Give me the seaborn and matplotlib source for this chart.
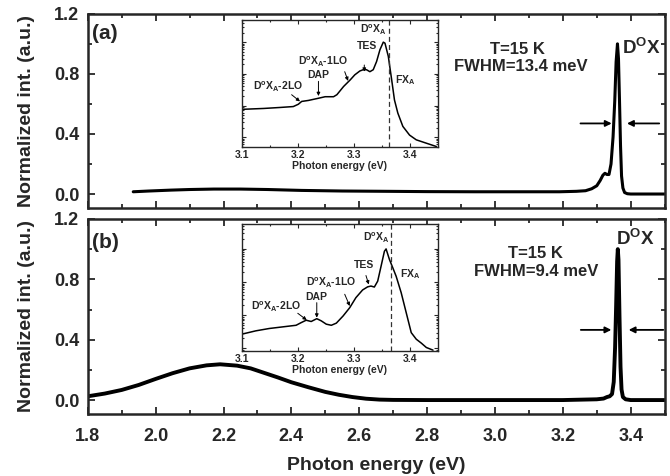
import matplotlib
matplotlib.use("Agg")
import matplotlib.pyplot as plt
from matplotlib.ticker import MultipleLocator, NullFormatter, LogLocator
import numpy as np
import pandas as pd
import seaborn as sns

# ---- main spectra (normalized PL intensity) ----
energy_a = [1.934, 1.98, 2.045, 2.10, 2.172, 2.25, 2.33, 2.43, 2.55, 2.68, 2.80, 2.94,
            3.06, 3.19, 3.24, 3.267, 3.285, 3.300, 3.310, 3.318, 3.324, 3.330, 3.336,
            3.342, 3.348, 3.353, 3.357, 3.361, 3.364, 3.367, 3.370, 3.373, 3.377,
            3.382, 3.390, 3.400, 3.45, 3.50]
intensity_a = [0.015, 0.020, 0.026, 0.030, 0.033, 0.033, 0.030, 0.024, 0.020, 0.018, 0.016, 0.015,
               0.015, 0.015, 0.018, 0.022, 0.035, 0.055, 0.090, 0.125, 0.138, 0.130, 0.130,
               0.200, 0.380, 0.620, 0.880, 1.000, 0.900, 0.620, 0.320, 0.120, 0.040,
               0.010, 0.002, 0.000, 0.000, 0.000]

energy_b = [1.80, 1.85, 1.90, 1.95, 2.00, 2.05, 2.10, 2.15, 2.19, 2.24, 2.28, 2.32, 2.36,
            2.40, 2.45, 2.50, 2.54, 2.58, 2.62, 2.66, 2.70, 2.80, 3.00, 3.20, 3.30,
            3.320, 3.330, 3.338, 3.345, 3.350, 3.354, 3.357, 3.360, 3.362, 3.364,
            3.367, 3.370, 3.373, 3.377, 3.385, 3.400, 3.45, 3.50]
intensity_b = [0.025, 0.043, 0.067, 0.100, 0.140, 0.178, 0.210, 0.230, 0.237, 0.228, 0.210, 0.180, 0.150,
               0.118, 0.085, 0.054, 0.035, 0.020, 0.009, 0.003, 0.001, 0.000, 0.000, 0.000, 0.005,
               0.010, 0.020, 0.025, 0.040, 0.120, 0.350, 0.620, 0.920, 1.000, 0.930,
               0.550, 0.220, 0.070, 0.020, 0.005, 0.000, 0.000, 0.000]

# ---- near-band-edge spectra (log scale insets) ----
inset_energy_a = [3.100, 3.139, 3.168, 3.192, 3.201, 3.207, 3.219, 3.237, 3.249, 3.264, 3.270,
                  3.282, 3.294, 3.302, 3.311, 3.317, 3.323, 3.329, 3.335, 3.341, 3.347,
                  3.353, 3.356, 3.362, 3.368, 3.373, 3.379, 3.388, 3.400, 3.412, 3.430, 3.448]
inset_intensity_a = [0.0076, 0.0081, 0.0087, 0.0093, 0.011, 0.0135, 0.0145, 0.017, 0.019, 0.019, 0.022,
                     0.040, 0.065, 0.093, 0.123, 0.135, 0.135, 0.117, 0.135, 0.245, 0.575,
                     1.0, 0.93, 0.355, 0.065, 0.015, 0.0058, 0.0022, 0.00117, 0.00083, 0.00065, 0.00051]

inset_energy_b = [3.100, 3.125, 3.149, 3.179, 3.197, 3.206, 3.215, 3.224, 3.234, 3.242, 3.251,
                  3.260, 3.269, 3.281, 3.293, 3.304, 3.316, 3.325, 3.331, 3.337, 3.343,
                  3.349, 3.355, 3.358, 3.364, 3.370, 3.376, 3.385, 3.394, 3.403, 3.412,
                  3.421, 3.430, 3.442]
inset_intensity_b = [0.0027, 0.0034, 0.0040, 0.0046, 0.0050, 0.0060, 0.0071, 0.0065, 0.0079, 0.0068, 0.0054,
                     0.0050, 0.0058, 0.0095, 0.017, 0.034, 0.058, 0.072, 0.076, 0.071, 0.107,
                     0.30, 0.85, 1.0, 0.48, 0.27, 0.15, 0.048, 0.012, 0.0030, 0.0019,
                     0.00145, 0.00107, 0.00089]

panel_labels = ["(a)", "(b)"]
temperature_text = ["T=15 K", "T=15 K"]
fwhm_text = ["FWHM=13.4 meV", "FWHM=9.4 meV"]
peak_label = r"D$^{\mathbf{O}}$X"
xticks_main = [1.8, 2.0, 2.2, 2.4, 2.6, 2.8, 3.0, 3.2, 3.4]
yticks_main = [0.0, 0.4, 0.8, 1.2]
inset_xticks = [3.1, 3.2, 3.3, 3.4]
dashed_energy = [3.363, 3.366]

sns.set_theme(style="ticks")
plt.rcParams["font.family"] = ["Liberation Sans", "DejaVu Sans"]
plt.rcParams["font.weight"] = "bold"
plt.rcParams["mathtext.fontset"] = "custom"
plt.rcParams["mathtext.rm"] = "Liberation Sans:bold"
plt.rcParams["mathtext.bf"] = "Liberation Sans:bold"
plt.rcParams["mathtext.it"] = "Liberation Sans:bold"

fig = plt.figure(figsize=(6.7, 4.76), dpi=100)
ax_a = fig.add_axes([0.131, 0.564, 0.861, 0.407])
ax_b = fig.add_axes([0.131, 0.131, 0.861, 0.409])
in_a = fig.add_axes([0.361, 0.691, 0.292, 0.267])
in_b = fig.add_axes([0.361, 0.263, 0.292, 0.267])

df_a = pd.DataFrame({"E": energy_a, "I": intensity_a})
df_b = pd.DataFrame({"E": energy_b, "I": intensity_b})
sns.lineplot(data=df_a, x="E", y="I", ax=ax_a, color="black", lw=2.2, estimator=None, sort=False)
sns.lineplot(data=df_b, x="E", y="I", ax=ax_b, color="black", lw=2.8, estimator=None, sort=False)

for ax in (ax_a, ax_b):
    ax.set_xlim(1.8, 3.5)
    ax.set_ylim(-0.09, 1.2)
    ax.set_xticks(xticks_main)
    ax.set_yticks(yticks_main)
    ax.xaxis.set_minor_locator(MultipleLocator(0.1))
    ax.yaxis.set_minor_locator(MultipleLocator(0.2))
    ax.tick_params(which="both", direction="in", top=True, right=True, width=1.3,
                   labelsize=13)
    ax.tick_params(which="major", length=5)
    ax.tick_params(which="minor", length=3)
    ax.tick_params(axis="y", pad=6)
    ax.tick_params(axis="x", pad=10)
    for s in ax.spines.values():
        s.set_linewidth(1.8)
    ax.set_ylabel("Normalized int. (a.u.)", fontsize=14, fontweight="bold")
    ax.yaxis.set_label_coords(-0.092, 0.5)
    ax.set_yticklabels([f"{v:.1f}" for v in yticks_main], fontweight="bold")

ax_a.set_xlabel("")
ax_a.set_xticklabels([])
ax_b.set_xticklabels([f"{v:.1f}" for v in xticks_main], fontweight="bold")
ax_b.set_xlabel("Photon energy (eV)", fontsize=14, fontweight="bold", labelpad=9)

# panel texts
ax_a.text(1.85, 1.07, panel_labels[0], fontsize=15, fontweight="bold", ha="center", va="center")
ax_b.text(1.853, 1.045, panel_labels[1], fontsize=15, fontweight="bold", ha="center", va="center")
ax_a.text(3.065, 0.96, temperature_text[0], fontsize=12, fontweight="bold", ha="center", va="center")
ax_a.text(3.075, 0.85, fwhm_text[0], fontsize=12, fontweight="bold", ha="center", va="center")
ax_b.text(3.12, 0.97, temperature_text[1], fontsize=12, fontweight="bold", ha="center", va="center")
ax_b.text(3.12, 0.85, fwhm_text[1], fontsize=12, fontweight="bold", ha="center", va="center")
ax_a.text(3.43, 0.97, peak_label, fontsize=13.5, fontweight="bold", ha="center", va="center")
ax_b.text(3.415, 1.07, peak_label, fontsize=13.5, fontweight="bold", ha="center", va="center")

# FWHM arrows
arrow_kw = dict(arrowstyle="-|>", color="black", lw=1.3, mutation_scale=9, shrinkA=0, shrinkB=0)
ax_a.annotate("", xy=(3.344, 0.47), xytext=(3.252, 0.47), arrowprops=arrow_kw)
ax_a.annotate("", xy=(3.389, 0.47), xytext=(3.484, 0.47), arrowprops=arrow_kw)
ax_b.annotate("", xy=(3.343, 0.465), xytext=(3.253, 0.465), arrowprops=arrow_kw)
ax_b.annotate("", xy=(3.394, 0.465), xytext=(3.496, 0.465), arrowprops=arrow_kw)

# insets
sns.lineplot(x=inset_energy_a, y=inset_intensity_a, ax=in_a, color="black", lw=1.1, estimator=None, sort=False)
sns.lineplot(x=inset_energy_b, y=inset_intensity_b, ax=in_b, color="black", lw=1.1, estimator=None, sort=False)
in_a.set_ylim(4.9e-4, 5.0)
in_b.set_ylim(8.5e-4, 5.75)

for ax, xd in ((in_a, dashed_energy[0]), (in_b, dashed_energy[1])):
    ax.set_yscale("log")
    ax.set_xlim(3.1, 3.45)
    ax.set_xticks(inset_xticks)
    ax.set_xticklabels([f"{v:.1f}" for v in inset_xticks], fontweight="bold")
    ax.xaxis.set_minor_locator(MultipleLocator(0.05))
    ax.yaxis.set_major_locator(LogLocator(base=10))
    ax.yaxis.set_minor_locator(LogLocator(base=10, subs=np.arange(2, 10)))
    ax.yaxis.set_major_formatter(NullFormatter())
    ax.yaxis.set_minor_formatter(NullFormatter())
    ax.tick_params(which="both", direction="in", top=True, right=True, labelsize=7.5, width=0.8, pad=2)
    ax.tick_params(which="major", length=3)
    ax.tick_params(which="minor", length=1.5)
    for s in ax.spines.values():
        s.set_linewidth(1.0)
    ax.set_xlabel("Photon energy (eV)", fontsize=7.5, fontweight="bold", labelpad=1)
    ax.set_ylabel("")
    ax.axvline(xd, color="#333333", lw=0.9, ls=(0, (4, 2.5)))

DXA = r"D$^{\mathbf{o}}$X$_{\mathbf{A}}$"
FXA = r"FX$_{\mathbf{A}}$"
small_arrow = dict(arrowstyle="-|>", color="black", lw=0.7, mutation_scale=5, shrinkA=0, shrinkB=0)
tfs = 7.5

# inset (a) labels
in_a.text(3.335, 2.35, DXA, fontsize=tfs, fontweight="bold", ha="center", va="center")
in_a.text(3.323, 0.76, "TES", fontsize=tfs, fontweight="bold", ha="center", va="center")
in_a.annotate("", xy=(3.319, 0.117), xytext=(3.319, 0.19), arrowprops=small_arrow)
in_a.text(3.246, 0.245, DXA + "-1LO", fontsize=tfs, fontweight="bold", ha="center", va="center")
in_a.annotate("", xy=(3.290, 0.060), xytext=(3.284, 0.117), arrowprops=small_arrow)
in_a.text(3.237, 0.093, "DAP", fontsize=tfs, fontweight="bold", ha="center", va="center")
in_a.annotate("", xy=(3.237, 0.020), xytext=(3.237, 0.058), arrowprops=small_arrow)
in_a.text(3.165, 0.040, DXA + "-2LO", fontsize=tfs, fontweight="bold", ha="center", va="center")
in_a.annotate("", xy=(3.204, 0.0135), xytext=(3.189, 0.022), arrowprops=small_arrow)
in_a.text(3.392, 0.065, FXA, fontsize=tfs, fontweight="bold", ha="center", va="center")

# inset (b) labels
in_b.text(3.340, 2.1, DXA, fontsize=tfs, fontweight="bold", ha="center", va="center")
in_b.text(3.319, 0.33, "TES", fontsize=tfs, fontweight="bold", ha="center", va="center")
in_b.annotate("", xy=(3.327, 0.085), xytext=(3.322, 0.158), arrowprops=small_arrow)
in_b.text(3.260, 0.095, DXA + "-1LO", fontsize=tfs, fontweight="bold", ha="center", va="center")
in_b.annotate("", xy=(3.293, 0.019), xytext=(3.284, 0.043), arrowprops=small_arrow)
in_b.text(3.233, 0.036, "DAP", fontsize=tfs, fontweight="bold", ha="center", va="center")
in_b.annotate("", xy=(3.234, 0.0085), xytext=(3.234, 0.024), arrowprops=small_arrow)
in_b.text(3.161, 0.018, DXA + "-2LO", fontsize=tfs, fontweight="bold", ha="center", va="center")
in_b.annotate("", xy=(3.216, 0.0072), xytext=(3.200, 0.0115), arrowprops=small_arrow)
in_b.text(3.401, 0.17, FXA, fontsize=tfs, fontweight="bold", ha="center", va="center")

fig.savefig("out.png", dpi=100)
